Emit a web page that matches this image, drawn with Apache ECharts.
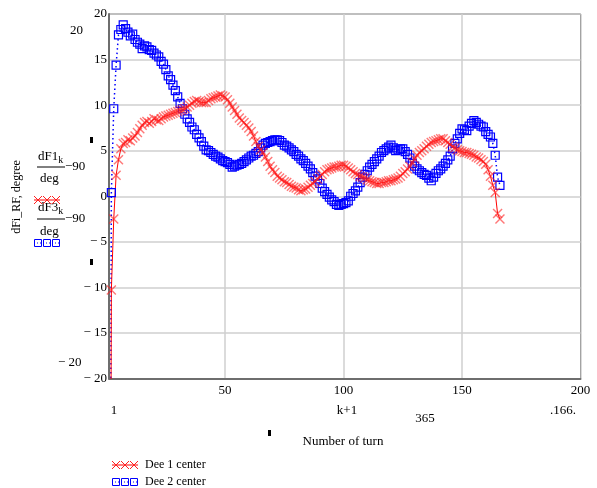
<!DOCTYPE html>
<html><head><meta charset="utf-8">
<script src="https://cdn.jsdelivr.net/npm/echarts@6/dist/echarts.min.js"></script>
<style>html,body{margin:0;padding:0;background:#fff}#c{width:597px;height:488px}</style>
</head><body><div id="c"></div>
<script>
// x = k+1, turn number 1..166
const dee1 = [-95,-10.3,-2.5,2.3,4.0,5.2,5.8,5.9,6.2,6.1,6.4,6.6,7.0,7.4,7.8,8.1,8.2,8.0,8.2,8.5,
8.4,8.3,8.5,8.7,8.8,8.9,9.0,9.1,9.2,9.3,9.4,9.5,9.6,9.8,10.0,10.2,10.4,10.5,10.4,10.3,
10.3,10.3,10.5,10.7,10.8,10.9,11.0,11.1,11.0,10.9,10.6,10.2,9.8,9.4,9.0,8.6,8.3,8.1,7.8,7.5,
7.1,6.6,6.0,5.5,5.1,4.8,4.3,3.8,3.3,2.9,2.6,2.2,2.0,1.8,1.6,1.5,1.3,1.1,1.0,0.9,
0.7,0.6,0.7,0.8,1.0,1.2,1.4,1.6,1.9,2.2,2.4,2.7,2.9,3.0,3.1,3.2,3.2,3.3,3.4,3.4,
3.3,3.1,2.9,2.7,2.5,2.4,2.2,2.1,2.0,1.8,1.7,1.6,1.5,1.4,1.4,1.5,1.5,1.6,1.7,1.7,
1.8,1.9,2.0,2.2,2.5,2.7,3.0,3.3,3.7,4.1,4.5,4.8,5.0,5.2,5.5,5.7,5.9,6.0,6.1,6.2,
6.3,6.3,6.1,5.9,5.7,5.4,5.3,5.1,5.0,4.9,4.8,4.8,4.7,4.6,4.5,4.3,4.2,4.0,3.8,3.5,
2.9,2.2,1.2,0.4,-1.9,-2.5];
const dee2 = [-95,0.4,9.6,14.4,17.7,18.3,18.8,18.4,18.0,17.6,17.8,17.2,16.9,16.7,16.2,16.5,16.4,16.1,16.0,15.7,
15.5,15.3,14.8,14.5,13.9,13.2,12.8,12.2,11.6,10.9,10.2,9.6,9.0,8.5,8.1,7.6,7.3,6.8,6.4,6.0,
5.5,5.1,5.0,4.8,4.6,4.4,4.3,4.1,3.9,3.8,3.7,3.5,3.2,3.3,3.4,3.5,3.6,3.8,4.0,4.2,
4.4,4.5,4.7,4.9,5.3,5.6,5.8,5.9,6.0,6.1,6.2,6.2,6.1,5.9,5.6,5.5,5.3,5.1,4.9,4.6,
4.4,4.1,3.9,3.6,3.3,3.0,2.6,2.2,1.9,1.4,0.9,0.5,0.2,-0.1,-0.4,-0.6,-0.9,-1.0,-0.9,-0.8,
-0.7,-0.5,0.0,0.3,0.6,1.0,1.5,2.1,2.4,2.8,3.2,3.5,3.8,4.1,4.4,4.8,5.0,5.2,5.4,5.6,
5.3,5.0,5.1,5.2,5.2,4.9,4.6,4.2,3.6,3.3,3.0,2.8,2.6,2.4,2.3,2.0,1.7,2.1,2.5,2.8,
3.0,3.3,3.6,4.0,4.4,5.2,5.8,6.3,6.9,7.4,7.3,7.2,7.7,8.0,8.3,8.1,7.9,7.7,7.6,7.1,
6.8,6.5,5.8,4.5,2.1,1.2];
const xTicks = [50, 100, 150, 200];
const seriesNames = ['Dee 1 center', 'Dee 2 center'];

const F = 'Liberation Serif';
const toXY = arr => arr.map((v, i) => [i + 1, v]);
const xPath = 'path://M0,1L1,0L5,4L9,0L10,1L6,5L10,9L9,10L5,6L1,10L0,9L4,5Z';
const sqPath = 'path://M0,0L10,0L10,10L0,10Z';

const chart = echarts.init(document.getElementById('c'));

function txt(t, x, y, opt) {
  return Object.assign({type: 'text', style: Object.assign({text: t, x: x, y: y, font: '13px "' + F + '"', fill: '#000', align: 'left', verticalAlign: 'middle'}, opt || {})});
}
function redMark(cx, cy) {
  return {type: 'polyline', shape: {points: [[cx-4, cy-4], [cx+4, cy+4]]}, style: {stroke: '#ff2020', lineWidth: 1}};
}
function redMark2(cx, cy) {
  return {type: 'polyline', shape: {points: [[cx+4, cy-4], [cx-4, cy+4]]}, style: {stroke: '#ff2020', lineWidth: 1}};
}
function blueSq(cx, cy) {
  return {type: 'rect', shape: {x: cx-3.5, y: cy-3.5, width: 7, height: 7}, style: {stroke: '#0000ff', fill: 'none', lineWidth: 1}};
}
function legendRed(x0, y) {
  const els = [{type: 'line', shape: {x1: x0, y1: y, x2: x0+26, y2: y}, style: {stroke: '#ff0000', lineWidth: 1}}];
  [x0+4, x0+13, x0+22].forEach(c => { els.push(redMark(c, y)); els.push(redMark2(c, y)); });
  return els;
}
function legendBlue(x0, y) {
  const els = [{type: 'line', shape: {x1: x0, y1: y, x2: x0+26, y2: y}, style: {stroke: '#0000ff', lineWidth: 1, lineDash: [1, 2]}}];
  [x0+4, x0+13, x0+22].forEach(c => els.push(blueSq(c, y)));
  return els;
}
const fracRich = {
  sub: {fontSize: 10, fontFamily: F, padding: [7, 0, 0, 0]}
};

const graphics = [].concat(
  [
    txt('20', 70, 31),
    txt('\u2212 20', 58, 363),
    {type: 'text', rotation: Math.PI / 2, x: 17, y: 197, style: {text: 'dFi_RF, degree', x: 0, y: 0, font: '12px "' + F + '"', fill: '#000', align: 'center', verticalAlign: 'middle'}},
    {type: 'text', style: {text: 'dF1{sub|k}', x: 38, y: 157, font: '13px "' + F + '"', fill: '#000', align: 'left', verticalAlign: 'middle', rich: fracRich}},
    {type: 'line', shape: {x1: 37, y1: 167, x2: 65, y2: 167}, style: {stroke: '#000', lineWidth: 1}},
    txt('\u221290', 65, 167),
    txt('deg', 40, 179),
    {type: 'text', style: {text: 'dF3{sub|k}', x: 38, y: 208, font: '13px "' + F + '"', fill: '#000', align: 'left', verticalAlign: 'middle', rich: fracRich}},
    {type: 'line', shape: {x1: 37, y1: 219, x2: 65, y2: 219}, style: {stroke: '#000', lineWidth: 1}},
    txt('\u221290', 65, 219),
    txt('deg', 40, 232),
    {type: 'rect', shape: {x: 90, y: 137, width: 3, height: 6}, style: {fill: '#000'}},
    {type: 'rect', shape: {x: 90, y: 259, width: 3, height: 6}, style: {fill: '#000'}},
    {type: 'rect', shape: {x: 268, y: 430, width: 3, height: 6}, style: {fill: '#000'}},
    txt('1', 114, 411, {align: 'center'}),
    txt('k+1', 347, 411, {align: 'center'}),
    txt('365', 425, 419, {align: 'center'}),
    txt('.166.', 563, 411, {align: 'center'}),
    txt('Number of turn', 343, 442, {align: 'center'}),
    txt(seriesNames[0], 145, 465, {font: '12px "' + F + '"'}),
    txt(seriesNames[1], 145, 482, {font: '12px "' + F + '"'})
  ],
  legendRed(34, 200),
  legendBlue(34, 243),
  legendRed(112, 465),
  legendBlue(112, 482)
);

chart.setOption({
  animation: false,
  backgroundColor: '#fff',
  grid: {left: 109, top: 14, width: 471.5, height: 364.5, show: true, borderColor: '#222', borderWidth: 1, containLabel: false},
  xAxis: {
    type: 'value', min: 1, max: 200, splitNumber: 4,
    axisLine: {show: true, onZero: false, lineStyle: {color: '#6e6e6e', width: 2}},
    axisTick: {show: false},
    axisLabel: {margin: 6, color: '#000', fontFamily: F, fontSize: 13,
      formatter: v => (xTicks.indexOf(v) >= 0 ? String(v) : '')},
    splitLine: {show: true, lineStyle: {color: '#cfcfcf', width: 1.5}}
  },
  yAxis: {
    type: 'value', min: -20, max: 20, interval: 5,
    axisLine: {show: true, onZero: false, lineStyle: {color: '#6e6e6e', width: 2}},
    axisTick: {show: false},
    axisLabel: {margin: 2, color: '#000', fontFamily: F, fontSize: 13,
      formatter: v => (v < 0 ? '\u2212 ' + Math.abs(v) : String(v))},
    splitLine: {show: true, lineStyle: {color: '#cfcfcf', width: 1.5}}
  },
  series: [
    {
      name: seriesNames[1], type: 'line', data: toXY(dee2), clip: true,
      showSymbol: true, showAllSymbol: true,
      symbol: sqPath, symbolSize: 8,
      itemStyle: {color: 'rgba(0,0,0,0)', borderColor: '#0000ff', borderWidth: 1.2},
      lineStyle: {color: '#0000ff', width: 1.5, type: [1.5, 3]}
    },
    {
      name: seriesNames[0], type: 'line', data: toXY(dee1), clip: true,
      showSymbol: true, showAllSymbol: true,
      symbol: xPath, symbolSize: 10,
      itemStyle: {color: 'rgba(255,30,30,0.6)'},
      lineStyle: {color: '#ff0000', width: 1}
    }
  ],
  graphic: graphics
});
</script></body></html>
